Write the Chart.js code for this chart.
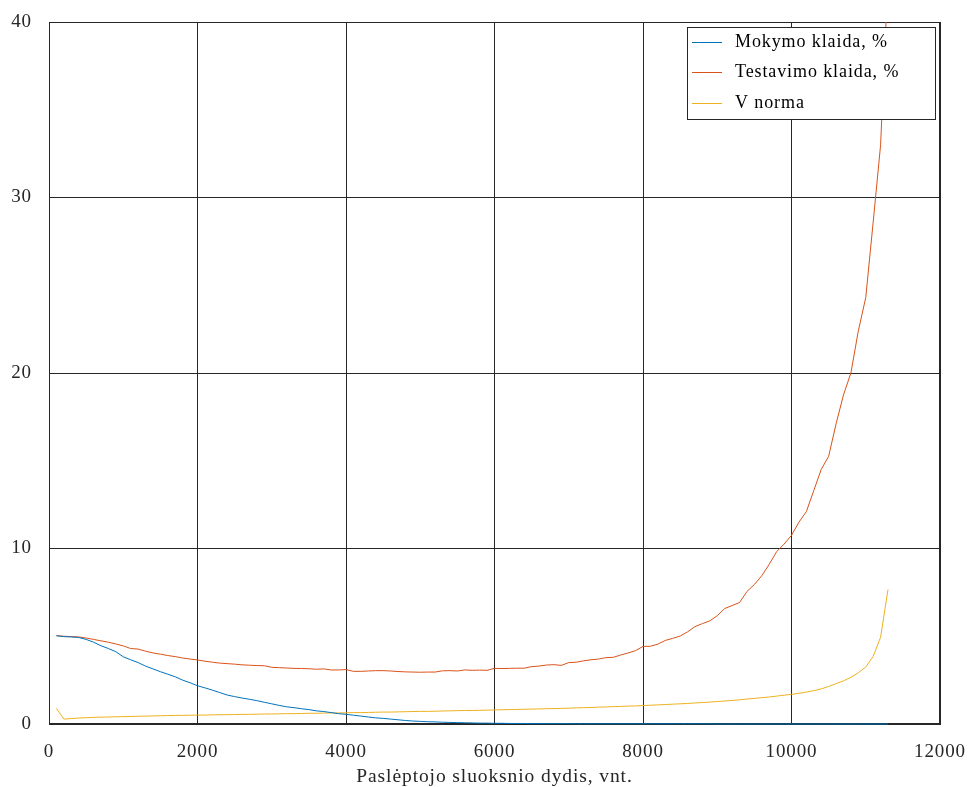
<!DOCTYPE html>
<html>
<head>
<meta charset="utf-8">
<script src="https://cdn.jsdelivr.net/npm/chart.js@4/dist/chart.umd.min.js"></script>
<style>
html,body{margin:0;padding:0;background:#fff;}
#wrap{width:968px;height:787px;}
</style>
</head>
<body>
<div id="wrap"><canvas id="c" width="968" height="787"></canvas></div>
<script>
// Hidden layer size (x values)
const hiddenSizes = [100,200,300,400,500,600,700,800,900,1000,1100,1200,1300,1400,1500,1600,1700,1800,1900,2000,
2100,2200,2300,2400,2500,2600,2700,2800,2900,3000,3100,3200,3300,3400,3500,3600,3700,3800,3900,4000,
4100,4200,4300,4400,4500,4600,4700,4800,4900,5000,5100,5200,5300,5400,5500,5600,5700,5800,5900,6000,
6100,6200,6300,6400,6500,6600,6700,6800,6900,7000,7100,7200,7300,7400,7500,7600,7700,7800,7900,8000,
8100,8200,8300,8400,8500,8600,8700,8800,8900,9000,9100,9200,9300,9400,9500,9600,9700,9800,9900,10000,
10100,10200,10300,10400,10500,10600,10700,10800,10900,11000,11100,11200,11300];

// Mokymo klaida, %
const trainError = [5.03,4.98,4.96,4.93,4.82,4.66,4.46,4.30,4.12,3.83,3.66,3.50,3.30,3.14,2.98,2.84,2.69,2.50,2.35,2.18,
2.06,1.93,1.79,1.65,1.56,1.48,1.41,1.33,1.24,1.15,1.06,0.98,0.93,0.87,0.82,0.75,0.71,0.65,0.59,0.55,
0.50,0.45,0.40,0.35,0.32,0.28,0.24,0.20,0.17,0.15,0.13,0.12,0.10,0.09,0.08,0.07,0.06,0.05,0.05,0.04,
0.04,0.03,0.03,0.03,0.02,0.02,0.02,0.02,0.02,0.02,0.01,0.01,0.01,0.01,0.01,0.01,0.01,0.01,0.01,0.01,
0.01,0.01,0.01,0.01,0.01,0.01,0.01,0.01,0.01,0.00,0.00,0.00,0.00,0.00,0.00,0.00,0.00,0.00,0.00,0.00,
0.00,0.00,0.00,0.00,0.00,0.00,0.00,0.00,0.00,0.00,0.00,0.00,0.00];

// Testavimo klaida, %
const testError = [5.03,5.00,4.98,4.96,4.90,4.82,4.74,4.66,4.56,4.45,4.30,4.27,4.15,4.05,3.98,3.90,3.84,3.76,3.70,3.65,
3.58,3.52,3.47,3.44,3.41,3.37,3.35,3.33,3.32,3.23,3.21,3.19,3.17,3.16,3.15,3.12,3.14,3.08,3.08,3.10,
3.00,3.00,3.02,3.04,3.04,3.02,2.99,2.97,2.96,2.95,2.96,2.96,3.03,3.04,3.02,3.08,3.06,3.07,3.06,3.17,
3.16,3.17,3.18,3.18,3.27,3.30,3.36,3.38,3.34,3.50,3.52,3.60,3.66,3.70,3.78,3.80,3.93,4.05,4.18,4.42,
4.43,4.55,4.76,4.88,5.01,5.25,5.55,5.72,5.88,6.17,6.58,6.75,6.92,7.55,7.95,8.45,9.10,9.82,10.25,10.75,
11.50,12.10,13.30,14.50,15.25,17.10,18.75,20.00,22.40,24.30,28.60,33.00,42.50];

// V norma
const vNorm = [0.89,0.28,0.31,0.34,0.36,0.38,0.39,0.40,0.41,0.42,0.43,0.44,0.45,0.46,0.47,0.48,0.49,0.49,0.50,0.51,
0.51,0.52,0.53,0.53,0.54,0.55,0.55,0.56,0.57,0.57,0.58,0.59,0.59,0.60,0.61,0.61,0.62,0.63,0.63,0.64,
0.65,0.65,0.66,0.67,0.68,0.68,0.69,0.70,0.71,0.72,0.72,0.73,0.74,0.75,0.76,0.77,0.77,0.78,0.79,0.80,
0.81,0.82,0.83,0.84,0.85,0.86,0.87,0.88,0.89,0.90,0.92,0.93,0.94,0.96,0.97,0.99,1.00,1.02,1.03,1.05,
1.07,1.09,1.11,1.13,1.15,1.17,1.20,1.22,1.25,1.28,1.31,1.34,1.38,1.42,1.46,1.50,1.54,1.59,1.64,1.69,
1.75,1.82,1.90,2.00,2.14,2.30,2.46,2.66,2.92,3.25,3.85,4.95,7.67];

const seriesNames = ['Mokymo klaida, %', 'Testavimo klaida, %', 'V norma'];
const seriesColors = ['#0072BD', '#D95319', '#EDB120'];
const xTickValues = [0,2000,4000,6000,8000,10000,12000];
const yTickValues = [0,10,20,30,40];
const xTitle = 'Paslėptojo sluoksnio dydis, vnt.';

const FONT = "'Liberation Serif', 'Times New Roman', serif";
const AXIS_COLOR = '#262626';
const LETTER_SPACING = '0.9px';

function toPoints(ys){ return hiddenSizes.map((x,i)=>({x:x, y:ys[i]})); }

const datasets = [trainError, testError, vNorm].map((ys,i)=>({
  label: seriesNames[i],
  data: toPoints(ys),
  borderColor: seriesColors[i],
  backgroundColor: seriesColors[i],
  borderWidth: 1,
  pointRadius: 0,
  tension: 0,
  fill: false,
  clip: i === 0 ? {left: 0, top: 0, right: 0, bottom: 2} : 0
}));

const spacingPlugin = {
  id: 'spacing',
  beforeLayout(chart){ chart.ctx.letterSpacing = LETTER_SPACING; },
  beforeDraw(chart){ chart.ctx.letterSpacing = LETTER_SPACING; }
};

const boxPlugin = {
  id: 'boxAndLegend',
  beforeDatasetsDraw(chart){
    const {ctx, chartArea:a} = chart;
    ctx.save();
    ctx.strokeStyle = AXIS_COLOR;
    ctx.lineWidth = 1;
    ctx.strokeRect(Math.round(a.left)+0.5, Math.round(a.top)+0.5, Math.round(a.right-a.left)-1, Math.round(a.bottom-a.top)-1);
    ctx.restore();
  },
  afterDraw(chart){
    const {ctx} = chart;
    ctx.save();
    ctx.lineWidth = 1;
    ctx.strokeStyle = AXIS_COLOR;
    const lx = 687, ly = 27, lw = 248, lh = 92;
    ctx.fillStyle = '#fff';
    ctx.fillRect(lx, ly, lw, lh);
    ctx.strokeRect(lx+0.5, ly+0.5, lw, lh);
    ctx.font = "18px " + FONT;
    ctx.textBaseline = 'middle';
    ctx.textAlign = 'left';
    const rows = [42, 72, 103];
    seriesNames.forEach((name,i)=>{
      ctx.strokeStyle = seriesColors[i];
      ctx.beginPath();
      ctx.moveTo(692, rows[i]+0.5);
      ctx.lineTo(722, rows[i]+0.5);
      ctx.stroke();
      ctx.fillStyle = '#000';
      ctx.fillText(name, 735, rows[i]+0.5);
    });
    ctx.restore();
  }
};

new Chart(document.getElementById('c'), {
  type: 'line',
  data: { datasets },
  options: {
    responsive: false,
    animation: false,
    devicePixelRatio: 1,
    layout: { padding: { top: 22, right: 28, left: 0, bottom: 0 } },
    plugins: { legend: { display: false }, tooltip: { enabled: false } },
    scales: {
      x: {
        type: 'linear',
        min: 0, max: 12000,
        afterBuildTicks(scale){ scale.ticks = xTickValues.map(v=>({value:v})); },
        afterFit(scale){ scale.height = 63; scale.paddingLeft = 0; scale.paddingRight = 0; },
        ticks: { color: AXIS_COLOR, font: { family: FONT, size: 19 }, padding: 17, maxRotation: 0,
                 callback: v => String(v) },
        grid: { color: AXIS_COLOR, lineWidth: 1, drawTicks: false },
        border: { display: true, color: AXIS_COLOR, width: 1 },
        title: { display: true, text: xTitle, color: AXIS_COLOR, font: { family: FONT, size: 19.5 }, padding: { top: 0, bottom: -2 } }
      },
      y: {
        type: 'linear',
        min: 0, max: 40,
        afterBuildTicks(scale){ scale.ticks = yTickValues.map(v=>({value:v})); },
        afterFit(scale){ scale.width = 49; scale.paddingTop = 0; scale.paddingBottom = 0; },
        ticks: { color: AXIS_COLOR, font: { family: FONT, size: 19 }, padding: 17,
                 callback: v => String(v) },
        grid: { color: AXIS_COLOR, lineWidth: 1, drawTicks: false },
        border: { display: true, color: AXIS_COLOR, width: 1 }
      }
    }
  },
  plugins: [spacingPlugin, boxPlugin]
});
</script>
</body>
</html>
